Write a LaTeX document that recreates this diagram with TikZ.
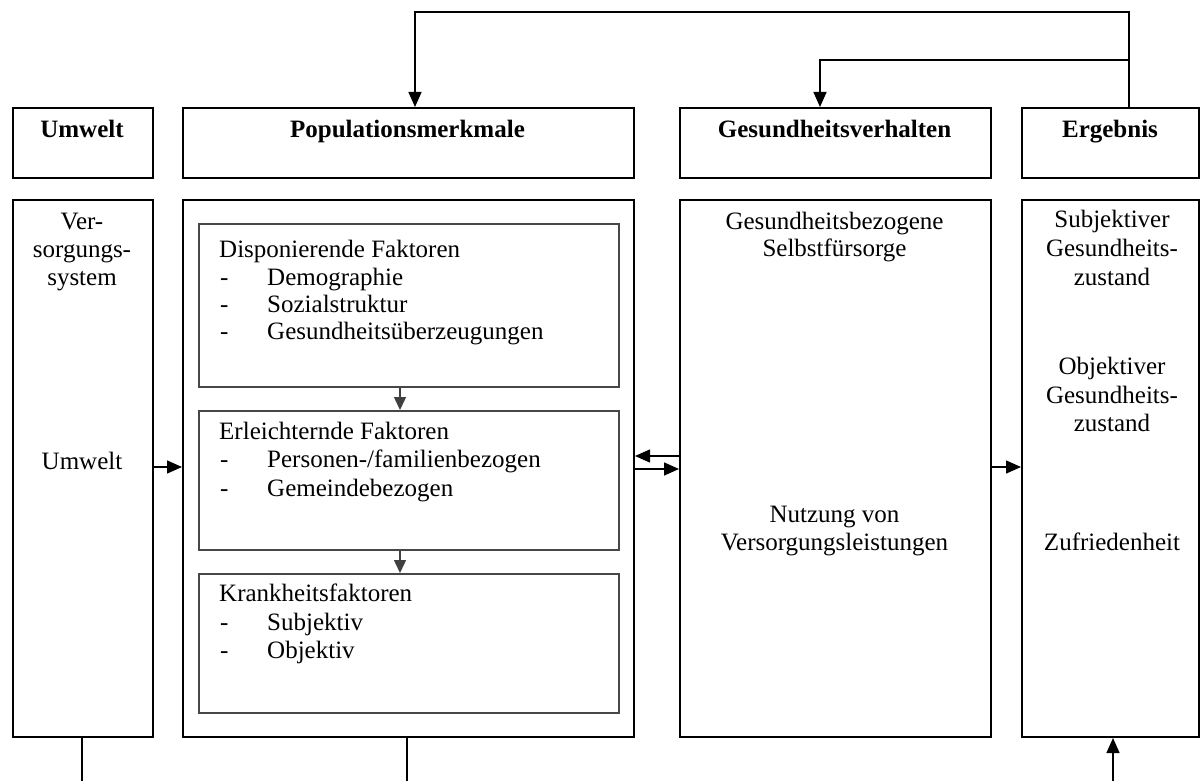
\documentclass[tikz,border=0pt]{standalone}
\usepackage{fontspec}
\setmainfont{Liberation Serif}
\usetikzlibrary{arrows.meta}
\begin{document}
\begin{tikzpicture}[x=1pt,y=-1pt,
  outerbox/.style={draw=black,line width=2pt,minimum width=#1,inner sep=0pt,anchor=north west},
  innerbox/.style={draw=black!72,line width=2pt,minimum width=420pt,inner sep=0pt,anchor=north west},
  conn/.style={line width=1.4pt,draw=black},
  arr/.style={conn,-{Triangle[length=15pt,width=13pt]}},
  garr/.style={line width=1.4pt,draw=black!75,-{Triangle[length=13pt,width=12pt]},black!75},
  txt/.style={inner sep=0pt,anchor=mid,font=\fontsize{25}{28}\selectfont},
  htxt/.style={txt,font=\fontsize{25}{28}\selectfont\bfseries},
  ltxt/.style={txt,anchor=mid west}]
\useasboundingbox (0,0) rectangle (1201,781);
% header boxes
\node[outerbox=140pt,minimum height=70pt] (uh) at (12,107) {};
\node[outerbox=451pt,minimum height=70pt] (ph) at (182,107) {};
\node[outerbox=311pt,minimum height=70pt] (gh) at (679,107) {};
\node[outerbox=177pt,minimum height=70pt] (eh) at (1021,107) {};
% body boxes
\node[outerbox=140pt,minimum height=537pt] (ub) at (12,199) {};
\node[outerbox=451pt,minimum height=537pt] (pb) at (182,199) {};
\node[outerbox=311pt,minimum height=537pt] (gb) at (679,199) {};
\node[outerbox=177pt,minimum height=537pt] (eb) at (1021,199) {};
% inner boxes
\node[innerbox,minimum height=163pt] (i1) at (198,223) {};
\node[innerbox,minimum height=139pt] (i2) at (198,410) {};
\node[innerbox,minimum height=139pt] (i3) at (198,573) {};
% header texts
\node[htxt] (uht) at (82,135) {Umwelt};
\node[htxt] (pht) at (407.5,135) {Populationsmerkmale};
\node[htxt] (ght) at (834.5,135) {Gesundheitsverhalten};
\node[htxt] (eht) at (1110,135) {Ergebnis};
% Umwelt body
\node[txt] (u1) at (82,227) {Ver-};
\node[txt] (u2) at (82,255) {sorgungs-};
\node[txt] (u3) at (82,283) {system};
\node[txt] (u4) at (82,467) {Umwelt};
% inner box 1
\node[ltxt] (a0) at (219,255) {Disponierende Faktoren};
\node[ltxt] (a1d) at (220,283) {-};
\node[ltxt] (a1) at (267,283) {Demographie};
\node[ltxt] (a2d) at (220,310) {-};
\node[ltxt] (a2) at (267,310) {Sozialstruktur};
\node[ltxt] (a3d) at (220,337) {-};
\node[ltxt] (a3) at (267,337) {Gesundheitsüberzeugungen};
% inner box 2
\node[ltxt] (b0) at (219,437) {Erleichternde Faktoren};
\node[ltxt] (b1d) at (220,465) {-};
\node[ltxt] (b1) at (267,465) {Personen-/familienbezogen};
\node[ltxt] (b2d) at (220,494) {-};
\node[ltxt] (b2) at (267,494) {Gemeindebezogen};
% inner box 3
\node[ltxt] (k0) at (219,599) {Krankheitsfaktoren};
\node[ltxt] (k1d) at (220,628) {-};
\node[ltxt] (k1) at (267,628) {Subjektiv};
\node[ltxt] (k2d) at (220,656) {-};
\node[ltxt] (k2) at (267,656) {Objektiv};
% Gesundheitsverhalten body
\node[txt] (g1) at (834.5,227) {Gesundheitsbezogene};
\node[txt] (g2) at (834.5,254) {Selbstfürsorge};
\node[txt] (g3) at (834.5,520) {Nutzung von};
\node[txt] (g4) at (834.5,548) {Versorgungsleistungen};
% Ergebnis body
\node[txt] (e1) at (1112,225) {Subjektiver};
\node[txt] (e2) at (1112,254) {Gesundheits-};
\node[txt] (e3) at (1112,283) {zustand};
\node[txt] (e4) at (1112,372) {Objektiver};
\node[txt] (e5) at (1112,401) {Gesundheits-};
\node[txt] (e6) at (1112,429) {zustand};
\node[txt] (e7) at (1112,548) {Zufriedenheit};
% helper coordinates
\coordinate (c1) at (1129,12);
\coordinate (c2) at (415,12);
\coordinate (c3) at (1129,60);
\coordinate (c4) at (820,60);
\coordinate (ym) at (0,467);
\coordinate (yl) at (0,456);
\coordinate (yr) at (0,469);
\coordinate (xi) at (400,0);
\coordinate (b1) at (82,781);
\coordinate (b2) at (407,781);
\coordinate (b3) at (1113,781);
% feedback arrows on top
\draw[arr] (eh.north -| c1) -- (c1) -- (c2) -- (ph.north -| c2);
\draw[arr] (c3) -- (c4) -- (gh.north -| c4);
% horizontal arrows
\draw[arr] (ub.east |- ym) -- (pb.west |- ym);
\draw[arr] (gb.east |- ym) -- (eb.west |- ym);
\draw[arr] (gb.west |- yl) -- (pb.east |- yl);
\draw[arr] (pb.east |- yr) -- (gb.west |- yr);
% inner arrows
\draw[garr] (i1.south -| xi) -- (i2.north -| xi);
\draw[garr] (i2.south -| xi) -- (i3.north -| xi);
% bottom lines
\draw[conn] (ub.south -| b1) -- (b1);
\draw[conn] (pb.south -| b2) -- (b2);
\draw[arr] (b3) -- (eb.south -| b3);
\end{tikzpicture}
\end{document}
